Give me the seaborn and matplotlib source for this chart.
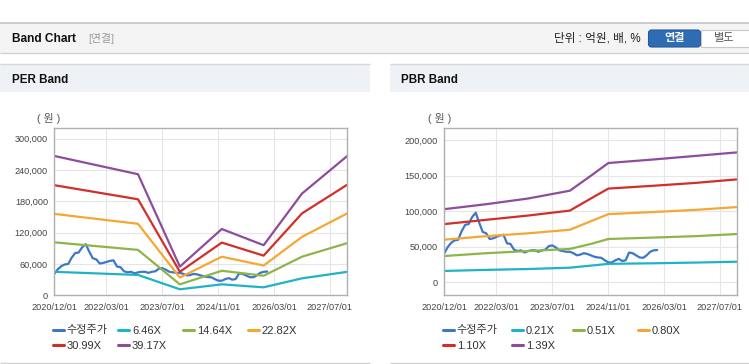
import pandas as pd
import matplotlib
matplotlib.use("Agg")
import matplotlib.pyplot as plt
import matplotlib.dates as mdates
from matplotlib.lines import Line2D
from matplotlib.patches import Rectangle, FancyBboxPatch
from matplotlib.ticker import FuncFormatter
import seaborn as sns

# ---------------------------------------------------------------
# data (won)
# ---------------------------------------------------------------
PRICE_START = "2020-12-01"
PRICE = [41000, 50000, 56000, 59000, 60000, 72000, 81000, 82000, 92000, 98000,
         84000, 71000, 69000, 61000, 62000, 64000, 66000, 67000, 55000, 54000,
         46000, 44000, 45000, 42000, 44000, 45000, 45000, 43000, 45000, 46000,
         51000, 52000, 49000, 45000, 44000, 43000, 43000, 41000, 38000, 39000,
         41000, 40000, 38000, 36000, 35000, 34500, 31000, 28000, 28000, 31000,
         33000, 30000, 31000, 42000, 41000, 38000, 35000, 34500, 38000, 43000,
         45000, 45500]

PER_DATES = ["2020-12-01", "2022-12-01", "2023-12-01", "2024-12-01",
             "2025-12-01", "2026-11-01", "2027-12-01"]
PER_LABELS = ["6.46X", "14.64X", "22.82X", "30.99X", "39.17X"]
PER_0646 = [45000, 39000, 11500, 21000, 15300, 32500, 45000]
PER_1464 = [101500, 87000, 21000, 47000, 37500, 74000, 100000]
PER_2282 = [156000, 137000, 34000, 74000, 57000, 112000, 157000]
PER_3099 = [211000, 184000, 45000, 101000, 76000, 157000, 212000]
PER_3917 = [267000, 232000, 55000, 127000, 96000, 195000, 267000]

PBR_DATES = ["2020-12-01", "2021-12-01", "2022-12-01", "2023-12-01",
             "2024-06-01", "2024-11-01", "2025-12-01", "2026-12-01", "2027-12-01"]
PBR_LABELS = ["0.21X", "0.51X", "0.80X", "1.10X", "1.39X"]
PBR_021 = [16000, 17500, 18700, 20600, 23500, 26000, 26800, 27800, 29000]
PBR_051 = [37000, 41000, 44000, 47000, 54000, 61000, 63000, 65000, 68000]
PBR_080 = [60000, 65000, 69000, 74000, 86000, 96000, 99000, 102000, 106000]
PBR_110 = [82000, 88000, 94000, 101000, 118000, 132000, 136000, 140000, 145000]
PBR_139 = [103000, 110000, 118000, 129000, 150000, 168000, 173000, 178000, 183000]

PRICE_LABEL = "수정주가"
COLORS = ["#3d77c7", "#1fb3c6", "#8db54b", "#f5a733", "#d12f2a", "#8e4c9c"]
X_TICKS = ["2020-12-01", "2022-03-01", "2023-07-01", "2024-11-01",
           "2026-03-01", "2027-07-01"]

W, H = 749, 364


def long_frame(band_dates, labels, bands):
    price_dates = pd.date_range(PRICE_START, periods=len(PRICE), freq="MS")
    parts = [pd.DataFrame({"date": price_dates, "value": PRICE, "series": PRICE_LABEL})]
    for lab, vals in zip(labels, bands):
        parts.append(pd.DataFrame({"date": pd.to_datetime(band_dates),
                                   "value": vals, "series": lab}))
    return pd.concat(parts, ignore_index=True)


def rect(x0, y0, x1, y1):
    return [x0 / W, 1 - y1 / H, (x1 - x0) / W, (y1 - y0) / H]


sns.set_style("white")
plt.rcParams["font.family"] = ["Liberation Sans", "Noto Sans CJK KR"]

fig = plt.figure(figsize=(W / 100, H / 100), dpi=100)

# background / page decoration in pixel coordinates
bg = fig.add_axes([0, 0, 1, 1], zorder=0)
bg.set_xlim(0, W)
bg.set_ylim(H, 0)
bg.axis("off")

bg.add_patch(Rectangle((0, 23), W, 30, fc="#f4f4f4", ec="none"))
bg.hlines(23, 0, W, color="#c4c4c4", lw=1.2)
bg.hlines(53, 0, W, color="#d2d2d2", lw=1.0)
bg.text(11.5, 38.5, "Band Chart", fontsize=8.6, fontweight="bold", va="center", color="#111")
bg.text(88, 38.5, "[연결]", fontsize=7.8, va="center", color="#9a9a9a")
bg.text(641, 38.5, "단위 : 억원, 배, %", fontsize=8.4, va="center", ha="right", color="#222")
bg.add_patch(FancyBboxPatch((648.5, 30), 52, 17, boxstyle="round,pad=0,rounding_size=3",
                            fc="#2e6db4", ec="#24599a", lw=0.8))
bg.text(674.5, 38.5, "연결", fontsize=8, fontweight="bold", ha="center", va="center", color="white")
bg.add_patch(Rectangle((700.5, 30), 50, 17, fc="white", ec="#c8c8c8", lw=0.8))
bg.text(724.5, 38.5, "별도", fontsize=8, ha="center", va="center", color="#555")

panels = [
    {"x0": 0, "x1": 370, "title": "PER Band", "tx": 11.5,
     "ax": rect(54.33, 128.3, 347.3, 295.3), "unit_x": 48.5,
     "labels": PER_LABELS, "dates": PER_DATES,
     "bands": [PER_0646, PER_1464, PER_2282, PER_3099, PER_3917],
     "ylim": (0, 320000), "yticks": list(range(0, 300001, 60000)),
     "leg_x": [53, 118, 183, 248]},
    {"x0": 390, "x1": W, "title": "PBR Band", "tx": 401,
     "ax": rect(444.33, 128.3, 737.3, 295.3), "unit_x": 440,
     "labels": PBR_LABELS, "dates": PBR_DATES,
     "bands": [PBR_021, PBR_051, PBR_080, PBR_110, PBR_139],
     "ylim": (-18300, 216900), "yticks": list(range(0, 200001, 50000)),
     "leg_x": [443, 512, 573, 638]},
]

for p in panels:
    bg.add_patch(Rectangle((p["x0"], 64), p["x1"] - p["x0"], 28, fc="#eef2f7", ec="none"))
    bg.hlines(64, p["x0"], p["x1"], color="#d6d6d6", lw=1.0)
    bg.hlines(362.5, p["x0"], p["x1"], color="#d0d0d0", lw=1.0)
    bg.text(p["tx"], 80, p["title"], fontsize=8.4, fontweight="bold", va="center", color="#111")
    bg.text(p["unit_x"], 118, "( 원 )", fontsize=7.8, ha="center", va="center", color="#555")

    df = long_frame(p["dates"], p["labels"], p["bands"])
    order = [PRICE_LABEL] + p["labels"]
    palette = dict(zip(order, COLORS))

    ax = fig.add_axes(p["ax"], zorder=1)
    sns.lineplot(data=df, x="date", y="value", hue="series", hue_order=order,
                 palette=palette, linewidth=1.6, legend=False, ax=ax)

    ax.set_xlim(pd.Timestamp("2020-12-01"), pd.Timestamp("2027-12-01"))
    ax.set_xticks(pd.to_datetime(X_TICKS))
    ax.xaxis.set_major_formatter(mdates.DateFormatter("%Y/%m/%d"))
    ax.set_ylim(*p["ylim"])
    ax.set_yticks(p["yticks"])
    ax.yaxis.set_major_formatter(FuncFormatter(lambda v, _: f"{int(v):,}"))
    ax.set_xlabel("")
    ax.set_ylabel("")
    ax.grid(True, color="#e6e6e6", lw=0.8)
    ax.set_axisbelow(True)
    for s in ax.spines.values():
        s.set_color("#b0b0b0")
        s.set_linewidth(1.0)
    ax.tick_params(axis="both", length=3, width=0.8, color="#b0b0b0",
                   labelsize=6.6, labelcolor="#444")
    ax.tick_params(axis="x", pad=2.5)
    ax.tick_params(axis="y", pad=1.5)

    # legend: four columns, like the original widget
    handles = [Line2D([], [], color=palette[k], lw=2.2) for k in order]
    cols = [[0, 4], [1, 5], [2], [3]]
    for cx, idx in zip(p["leg_x"], cols):
        fig.legend([handles[i] for i in idx], [order[i] for i in idx],
                   loc="upper left", bbox_to_anchor=(cx / W, 1 - 325.5 / H),
                   bbox_transform=fig.transFigure, frameon=False,
                   fontsize=8, handlelength=0.95, handletextpad=0.3,
                   borderpad=0, borderaxespad=0, labelspacing=0.5,
                   labelcolor="#333")

plt.savefig("out.png", dpi=100)
